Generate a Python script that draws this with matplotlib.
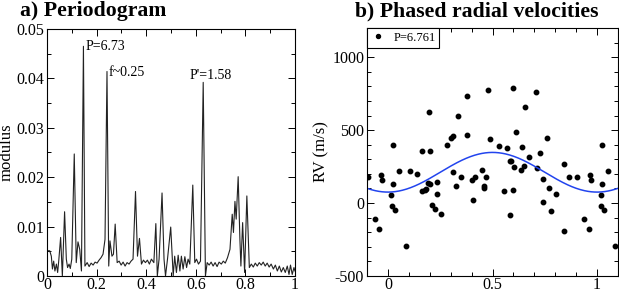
import matplotlib

matplotlib.use("Agg")
import matplotlib.pyplot as plt
import numpy as np
from matplotlib.ticker import FuncFormatter, MultipleLocator

plt.rcParams.update({"font.family": "Liberation Serif", "font.size": 12,
                     "axes.unicode_minus": False, "axes.linewidth": 0.8})

# a) periodogram
freq = [0.0, 0.011, 0.0175, 0.022, 0.027, 0.032, 0.038, 0.043, 0.048, 0.055,
        0.062, 0.071, 0.078, 0.083, 0.089, 0.094, 0.100, 0.110, 0.118, 0.125,
        0.132, 0.139, 0.147, 0.153, 0.162, 0.170, 0.178, 0.186, 0.194, 0.202,
        0.210, 0.218, 0.226, 0.234, 0.242, 0.249, 0.254, 0.262, 0.268, 0.275,
        0.283, 0.291, 0.299, 0.307, 0.315, 0.323, 0.331, 0.339, 0.347, 0.357,
        0.365, 0.373, 0.381, 0.389, 0.397, 0.405, 0.413, 0.421, 0.431, 0.439,
        0.445, 0.452, 0.464, 0.472, 0.478, 0.486, 0.499, 0.509, 0.515, 0.522,
        0.529, 0.536, 0.542, 0.549, 0.556, 0.563, 0.569, 0.576, 0.588, 0.596,
        0.603, 0.611, 0.619, 0.630, 0.639, 0.646, 0.654, 0.662, 0.670, 0.678,
        0.686, 0.694, 0.703, 0.711, 0.719, 0.728, 0.738, 0.747, 0.752, 0.758,
        0.763, 0.771, 0.778, 0.782, 0.789, 0.797, 0.806, 0.816, 0.824, 0.832,
        0.840, 0.848, 0.856, 0.864, 0.872, 0.880, 0.888, 0.896, 0.904, 0.913,
        0.921, 0.929, 0.937, 0.945, 0.953, 0.961, 0.969, 0.976, 0.982, 0.989,
        0.996, 1.0]
modulus = [0.0051, 0.0051, 0.0040, 0.0014, 0.0030, 0.0010, 0.0024, 0.0007, 0.0034, 0.0078,
           0.0, 0.0130, 0.0034, 0.0017, 0.0024, 0.0015, 0.0034, 0.0247, 0.0027, 0.0069,
           0.0054, 0.0010, 0.0465, 0.0020, 0.0027, 0.0019, 0.0026, 0.0022, 0.0028, 0.0026,
           0.0032, 0.0037, 0.0044, 0.0074, 0.0414, 0.0020, 0.0071, 0.0040, 0.0044, 0.0105,
           0.0027, 0.0030, 0.0022, 0.0028, 0.0020, 0.0027, 0.0024, 0.0030, 0.0034, 0.0171,
           0.0040, 0.0076, 0.0024, 0.0032, 0.0027, 0.0032, 0.0024, 0.0034, 0.0027, 0.0106,
           0.0, 0.0034, 0.0168, 0.0034, 0.0, 0.0034, 0.0099, 0.0, 0.0040, 0.0007,
           0.0042, 0.0010, 0.0040, 0.0014, 0.0039, 0.0017, 0.0034, 0.0024, 0.0184, 0.0027,
           0.0034, 0.0024, 0.0030, 0.0392, 0.0, 0.0027, 0.0022, 0.0028, 0.0020, 0.0027,
           0.0019, 0.0028, 0.0024, 0.0030, 0.0026, 0.0037, 0.0054, 0.0125, 0.0088, 0.0151,
           0.0115, 0.0201, 0.0074, 0.0020, 0.0108, 0.0007, 0.0162, 0.0017, 0.0024, 0.0018,
           0.0026, 0.0020, 0.0027, 0.0022, 0.0028, 0.0020, 0.0026, 0.0018, 0.0024, 0.0014,
           0.0022, 0.0010, 0.0020, 0.0008, 0.0017, 0.0007, 0.0020, 0.0003, 0.0022, 0.0003,
           0.0017, 0.0010]
peak_labels = ["P=6.73", "f~0.25", "P'=1.58"]
peak_label_xy = [(0.155, 0.0464), (0.248, 0.0412), (0.661, 0.0405)]
peak_label_ha = ["left", "left", "center"]

# b) phased radial velocities (one cycle, repeated beyond 0..1)
phase = [0.017, 0.019, 0.022, 0.022, 0.033, 0.051, 0.086, 0.106, 0.138, 0.165,
         0.165, 0.178, 0.184, 0.192, 0.194, 0.200, 0.202, 0.213, 0.224, 0.233,
         0.233, 0.252, 0.281, 0.300, 0.313, 0.313, 0.327, 0.337, 0.348, 0.376,
         0.379, 0.403, 0.408, 0.416, 0.451, 0.459, 0.459, 0.471, 0.478, 0.486,
         0.530, 0.557, 0.570, 0.586, 0.590, 0.586, 0.597, 0.597, 0.605, 0.610,
         0.635, 0.641, 0.652, 0.657, 0.676, 0.706, 0.713, 0.725, 0.741, 0.743,
         0.760, 0.768, 0.779, 0.803, 0.840, 0.843, 0.867, 0.903, 0.938, 0.959,
         0.967, 0.971]
rv = [57, -23, 132, 399, -46, 217, -297, 217, 201, 358,
      80, 91, 98, 137, 621, 130, 358, -16, -39, 144,
      62, -75, 399, 445, 457, 212, 114, 594, 176, 735,
      468, 160, 23, 176, 228, 114, 103, 180, 774, 438,
      388, 80, 377, 290, 290, -80, 788, 87, 247, 486,
      228, 384, 251, 658, 313, 760, 240, 342, 167, 5,
      443, 103, -53, 62, 267, -190, 180, 180, -107, -178,
      192, 160]
period = 6.761
fit_v0, fit_k = 211, 136  # sine fit: v0 - K cos(2 pi phase)

fig = plt.figure(figsize=(6.19, 2.92), dpi=100)
axA = fig.add_axes([0.0759, 0.055, 0.4006, 0.8456])
axB = fig.add_axes([0.5929, 0.055, 0.4055, 0.849])

fmt = FuncFormatter(lambda v, _: f"{v:g}")
for ax in (axA, axB):
    ax.tick_params(which="both", direction="in", top=True, right=True, labelsize=11.5)
    ax.tick_params(which="major", length=5, width=0.7)
    ax.tick_params(which="minor", length=3, width=0.7)
    ax.tick_params(axis="x", pad=0.5)
    ax.tick_params(axis="y", pad=2)
    ax.xaxis.set_major_formatter(fmt)
    ax.yaxis.set_major_formatter(fmt)

axA.plot(freq, modulus, color="#222222", lw=0.8)
for txt, (x, y), ha in zip(peak_labels, peak_label_xy, peak_label_ha):
    axA.text(x, y, txt, ha=ha, va="center", fontsize=10)
axA.set_xlim(0, 1)
axA.set_ylim(0, 0.05)
axA.xaxis.set_major_locator(MultipleLocator(0.2))
axA.xaxis.set_minor_locator(MultipleLocator(0.1))
axA.yaxis.set_major_locator(MultipleLocator(0.01))
axA.yaxis.set_minor_locator(MultipleLocator(0.005))
axA.set_ylabel("modulus", fontsize=12, labelpad=1)
fig.text(20 / 619, 1 - 1 / 292, "a) Periodogram", fontsize=15.7, fontweight="bold",
         ha="left", va="top")

ph = np.array(phase)
v = np.array(rv)
ph_all = np.concatenate([ph - 1, ph, ph + 1])
v_all = np.concatenate([v, v, v])
keep = (ph_all >= -0.1) & (ph_all <= 1.1)
axB.plot(ph_all[keep], v_all[keep], "o", ms=3.2, color="black", label=f"P={period}")
xs = np.linspace(-0.1, 1.1, 300)
axB.plot(xs, fit_v0 - fit_k * np.cos(2 * np.pi * xs), color="#2244ee", lw=1.1)
axB.set_xlim(-0.1, 1.1)
axB.set_ylim(-500, 1200)
axB.xaxis.set_major_locator(MultipleLocator(0.5))
axB.xaxis.set_minor_locator(MultipleLocator(0.1))
axB.yaxis.set_major_locator(MultipleLocator(500))
axB.yaxis.set_minor_locator(MultipleLocator(100))
axB.set_ylabel("RV (m/s)", fontsize=12, labelpad=2)
fig.text(355 / 619, 1 - 1 / 292, "b) Phased radial velocities", fontsize=15.7,
         fontweight="bold", ha="left", va="top")
leg = axB.legend(loc="upper left", borderaxespad=0, fancybox=False, framealpha=1,
                 edgecolor="black", fontsize=9, handlelength=1.2, handletextpad=0.6,
                 borderpad=0.3, markerscale=0.9)
leg.get_frame().set_linewidth(0.8)

fig.savefig("out.png", dpi=100)
